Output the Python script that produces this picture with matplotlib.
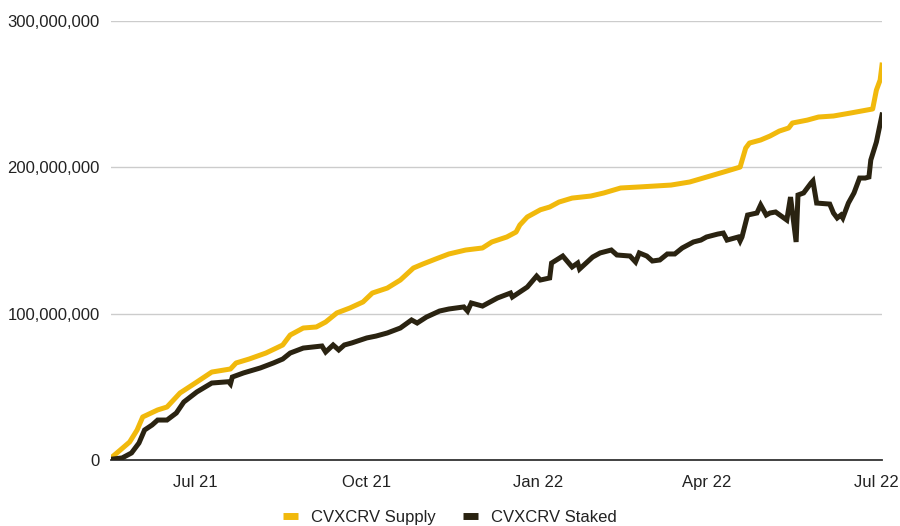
import matplotlib
matplotlib.use("Agg")
import matplotlib.pyplot as plt
import matplotlib.dates as mdates
import matplotlib.ticker as mticker
import pandas as pd

plt.rcParams['font.family'] = ['Liberation Sans', 'DejaVu Sans']

# values in millions of tokens
supply_dates = [
    "2021-05-17", "2021-05-22", "2021-05-27", "2021-05-31", "2021-06-03", "2021-06-11",
    "2021-06-16", "2021-06-23", "2021-07-02", "2021-07-10", "2021-07-20", "2021-07-23",
    "2021-07-30", "2021-08-08", "2021-08-17", "2021-08-21", "2021-08-28", "2021-09-04",
    "2021-09-09", "2021-09-15", "2021-09-22", "2021-09-29", "2021-10-04", "2021-10-12",
    "2021-10-19", "2021-10-26", "2021-10-31", "2021-11-07", "2021-11-14", "2021-11-23",
    "2021-12-02", "2021-12-07", "2021-12-15", "2021-12-20", "2021-12-22", "2021-12-26",
    "2022-01-02", "2022-01-07", "2022-01-12", "2022-01-19", "2022-01-29", "2022-02-05",
    "2022-02-14", "2022-02-24", "2022-03-13", "2022-03-23", "2022-04-03", "2022-04-12",
    "2022-04-19", "2022-04-22", "2022-04-24", "2022-04-30", "2022-05-05", "2022-05-10",
    "2022-05-15", "2022-05-17", "2022-05-25", "2022-05-31", "2022-06-08", "2022-06-17",
    "2022-06-23", "2022-06-29", "2022-07-01", "2022-07-03", "2022-07-04",
]
supply = [
    1.4, 6.8, 12.3, 20.5, 29.4, 34.2,
    36.2, 45.8, 53.3, 60.1, 62.2, 66.3,
    69.0, 73.1, 78.6, 85.4, 90.2, 90.9,
    94.3, 100.5, 103.9, 108.0, 114.1, 117.5,
    123.0, 131.2, 133.9, 137.4, 140.8, 143.5,
    144.9, 149.0, 152.4, 155.8, 160.6, 166.1,
    171.0, 172.9, 176.3, 179.0, 180.4, 182.5,
    185.9, 186.6, 187.9, 190.0, 194.1, 197.5,
    200.2, 213.2, 216.6, 218.7, 221.4, 224.8,
    226.9, 230.3, 232.3, 234.4, 235.1, 237.1,
    238.5, 239.9, 252.8, 259.7, 269.9,
]

staked_dates = [
    "2021-05-17", "2021-05-23", "2021-05-28", "2021-06-01", "2021-06-04", "2021-06-08",
    "2021-06-11", "2021-06-16", "2021-06-21", "2021-06-25", "2021-07-02", "2021-07-10",
    "2021-07-19", "2021-07-20", "2021-07-21", "2021-07-27", "2021-08-05", "2021-08-12",
    "2021-08-17", "2021-08-21", "2021-08-28", "2021-09-07", "2021-09-09", "2021-09-13",
    "2021-09-16", "2021-09-19", "2021-09-23", "2021-10-01", "2021-10-06", "2021-10-12",
    "2021-10-19", "2021-10-25", "2021-10-28", "2021-11-02", "2021-11-09", "2021-11-14",
    "2021-11-22", "2021-11-24", "2021-11-26", "2021-12-02", "2021-12-10", "2021-12-17",
    "2021-12-18", "2021-12-22", "2021-12-26", "2021-12-31", "2022-01-02", "2022-01-07",
    "2022-01-08", "2022-01-14", "2022-01-19", "2022-01-22", "2022-01-23", "2022-01-30",
    "2022-02-03", "2022-02-09", "2022-02-12", "2022-02-19", "2022-02-22", "2022-02-24",
    "2022-02-28", "2022-03-03", "2022-03-07", "2022-03-11", "2022-03-15", "2022-03-19",
    "2022-03-25", "2022-03-29", "2022-04-01", "2022-04-07", "2022-04-10", "2022-04-12",
    "2022-04-18", "2022-04-19", "2022-04-20", "2022-04-23", "2022-04-28", "2022-04-30",
    "2022-05-03", "2022-05-05", "2022-05-08", "2022-05-14", "2022-05-16", "2022-05-19",
    "2022-05-20", "2022-05-23", "2022-05-27", "2022-05-28", "2022-05-30", "2022-06-06",
    "2022-06-08", "2022-06-10", "2022-06-12", "2022-06-13", "2022-06-16", "2022-06-19",
    "2022-06-22", "2022-06-25", "2022-06-27", "2022-06-28", "2022-07-01", "2022-07-04",
]
staked = [
    0.5, 1.4, 4.8, 11.6, 20.5, 23.9,
    27.3, 27.3, 32.1, 39.6, 46.5, 52.6,
    53.5, 52.0, 56.7, 59.5, 62.9, 66.3,
    69.0, 73.1, 76.5, 77.9, 73.8, 78.6,
    75.2, 78.6, 80.0, 83.4, 84.7, 86.8,
    90.2, 95.7, 93.6, 97.7, 101.8, 103.2,
    104.6, 101.8, 107.3, 105.2, 110.7, 114.1,
    111.4, 114.8, 118.2, 125.7, 123.0, 124.4,
    134.6, 139.4, 131.9, 134.6, 130.5, 138.7,
    141.5, 143.5, 140.1, 139.4, 135.3, 141.5,
    139.4, 136.0, 136.7, 140.8, 140.8, 144.9,
    149.0, 150.3, 152.4, 154.4, 155.1, 150.3,
    152.4, 149.7, 152.4, 167.4, 168.8, 174.3,
    167.4, 168.8, 169.5, 164.0, 179.7, 149.0,
    181.1, 182.5, 189.3, 190.7, 175.6, 174.9,
    168.8, 165.4, 167.4, 165.4, 175.6, 182.5,
    192.7, 192.7, 193.4, 205.0, 217.3, 235.8,
]

tick_dates = ["2021-07-01", "2021-10-01", "2022-01-01", "2022-04-01", "2022-07-01"]

gold = "#f1b90c"
dark = "#2a2311"

fig = plt.figure(figsize=(9, 5.26), dpi=100)
ax = fig.add_axes([0.1233, 0.1255, 0.8567, 0.8345])

ax.plot(pd.to_datetime(supply_dates), [v * 1e6 for v in supply],
        color=gold, lw=3.6, label="CVXCRV Supply", solid_joinstyle="round")
ax.plot(pd.to_datetime(staked_dates), [v * 1e6 for v in staked],
        color=dark, lw=3.6, label="CVXCRV Staked", solid_joinstyle="miter")

ax.set_xlim(pd.Timestamp("2021-05-17"), pd.Timestamp("2022-07-04"))
ax.set_ylim(0, 300e6)
ax.set_yticks([0, 100e6, 200e6, 300e6])
ax.yaxis.set_major_formatter(mticker.FuncFormatter(lambda v, p: f"{int(v):,}"))
ax.set_xticks(pd.to_datetime(tick_dates))
ax.xaxis.set_major_formatter(mdates.DateFormatter("%b %y"))

ax.grid(axis="y", color="#cccccc", lw=1)
ax.set_axisbelow(True)
for s in ["top", "right", "left"]:
    ax.spines[s].set_visible(False)
ax.spines["bottom"].set_color("#333333")
ax.spines["bottom"].set_linewidth(1.3)
ax.spines["bottom"].set_zorder(1)
ax.tick_params(axis="both", length=0, labelsize=12, colors="#222222")
ax.tick_params(axis="y", pad=8)
ax.tick_params(axis="x", pad=11)

leg = fig.legend(loc="center", bbox_to_anchor=(0.5, 0.016), ncol=2, frameon=False,
                 fontsize=12, handlelength=0.9, handletextpad=0.8, columnspacing=1.6)
for h in leg.get_lines():
    h.set_linewidth(5)
    h.set_solid_capstyle("butt")
for t in leg.get_texts():
    t.set_color("#222222")

fig.savefig("out.png", dpi=100)
